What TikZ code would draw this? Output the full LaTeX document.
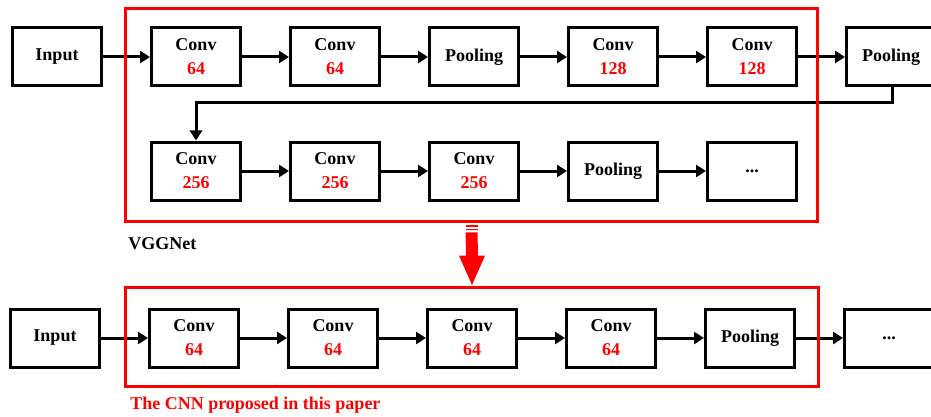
\documentclass[tikz,border=0pt]{standalone}
\usepackage{fontspec}
\setmainfont{Liberation Serif}
\usetikzlibrary{arrows.meta,calc}

\tikzset{
  layer/.style={draw, line width=3pt, minimum width=89pt, minimum height=58pt, inner sep=0pt, align=center, font=\fontsize{18}{24}\selectfont\bfseries},
  frame/.style={draw=red, line width=2.8pt, inner sep=0pt},
  flow/.style={-{Triangle[length=10pt,width=12pt]}, line width=3pt},
  caption/.style={anchor=west, inner sep=0pt, font=\fontsize{18}{22}\selectfont\bfseries},
}
\newcommand{\filters}[1]{\textcolor{red}{#1}}

\begin{document}
\begin{tikzpicture}[x=1pt, y=-1pt]
\useasboundingbox (0,0) rectangle (931,417);

% VGGNet, first row
\node[layer] (in1) at (57,57) {Input};
\node[layer] (a1) at (196,57) {Conv\\\filters{64}};
\node[layer] (a2) at (335,57) {Conv\\\filters{64}};
\node[layer] (a3) at (474,57) {Pooling};
\node[layer] (a4) at (613,57) {Conv\\\filters{128}};
\node[layer] (a5) at (752,57) {Conv\\\filters{128}};
\node[layer] (a6) at (891,57) {Pooling};

% VGGNet, second row
\node[layer] (b1) at (196,171) {Conv\\\filters{256}};
\node[layer] (b2) at (335,171) {Conv\\\filters{256}};
\node[layer] (b3) at (474,171) {Conv\\\filters{256}};
\node[layer] (b4) at (613,171) {Pooling};
\node[layer] (b5) at (752,171) {...};

% proposed CNN
\node[layer] (in2) at (55,338) {Input};
\node[layer] (c1) at (194,338) {Conv\\\filters{64}};
\node[layer] (c2) at (333,338) {Conv\\\filters{64}};
\node[layer] (c3) at (472,338) {Conv\\\filters{64}};
\node[layer] (c4) at (611,338) {Conv\\\filters{64}};
\node[layer] (c5) at (750,338) {Pooling};
\node[layer] (c6) at (889,338) {...};

\draw[flow] (in1) -- (a1);
\draw[flow] (a1) -- (a2);
\draw[flow] (a2) -- (a3);
\draw[flow] (a3) -- (a4);
\draw[flow] (a4) -- (a5);
\draw[flow] (a5) -- (a6);
\draw[flow] (a6.south -| 892,0) -- ++(0,15) -| (b1.north);
\draw[flow] (b1) -- (b2);
\draw[flow] (b2) -- (b3);
\draw[flow] (b3) -- (b4);
\draw[flow] (b4) -- (b5);

\draw[flow] (in2) -- (c1);
\draw[flow] (c1) -- (c2);
\draw[flow] (c2) -- (c3);
\draw[flow] (c3) -- (c4);
\draw[flow] (c4) -- (c5);
\draw[flow] (c5) -- (c6);

% red frames
\node[frame, minimum width=692pt, minimum height=213pt] (vgg) at (471.5,115) {};
\node[frame, minimum width=693pt, minimum height=99pt] (cnn) at (472,337) {};
\node[caption] (vgglabel) at ($(vgg.south west)+(4,20.5)$) {VGGNet};
\node[caption, red] (cnnlabel) at ($(cnn.south west)+(6,17)$) {The CNN proposed in this paper};

% red arrow between the frames
\fill[red] ($(vgg.south)+(-6,2.5)$) rectangle ($(vgg.south)+(6,4.5)$);
\fill[red] ($(vgg.south)+(-6,6)$) rectangle ($(vgg.south)+(6,7.5)$);
\fill[red] ($(vgg.south)+(-6,9.5)$) -- ($(cnn.north)+(-6,-30.5)$) -- ($(cnn.north)+(-13,-30.5)$)
  -- ($(cnn.north)+(0,-1)$) -- ($(cnn.north)+(13,-30.5)$) -- ($(cnn.north)+(6,-30.5)$)
  -- ($(vgg.south)+(6,9.5)$) -- cycle;
\end{tikzpicture}
\end{document}
